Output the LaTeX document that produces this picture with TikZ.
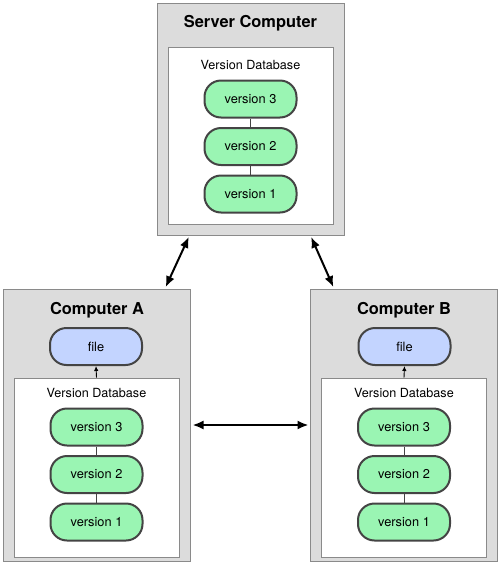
\documentclass[tikz,border=0pt]{standalone}
\usepackage{fontspec}
\setmainfont{TeX Gyre Heros}
\usetikzlibrary{arrows.meta}
\definecolor{boxgray}{HTML}{DCDCDC}
\definecolor{edgegray}{HTML}{8A8A8A}
\definecolor{vergreen}{HTML}{9AF5B3}
\definecolor{fileblue}{HTML}{C3D4FF}
\definecolor{pilledge}{HTML}{444444}
\begin{document}
\begin{tikzpicture}[x=1pt,y=-1pt,
comp/.style={draw=edgegray,fill=boxgray,line width=1pt,minimum width=187pt,minimum height=272pt,inner sep=0pt},
db/.style={draw=edgegray,fill=white,line width=0.8pt,minimum width=165pt,minimum height=179pt,inner sep=0pt},
pill/.style={draw=pilledge,line width=2pt,minimum width=92pt,minimum height=37pt,rounded corners=16.5pt,font=\fontsize{12.8}{14}\selectfont},
ver/.style={pill,fill=vergreen}, fl/.style={pill,fill=fileblue},
ttl/.style={font=\fontsize{16.4}{18}\selectfont\bfseries},
lbl/.style={font=\fontsize{12.6}{14}\selectfont},
twoway/.style={line width=2pt,{Latex[length=11pt,width=9pt]}-{Latex[length=11pt,width=9pt]},shorten >=1.5pt,shorten <=1.5pt},
chk/.style={line width=0.9pt,-{Latex[length=5pt,width=4.5pt]}}]
\useasboundingbox (0,0) rectangle (500,563);
%\draw[help lines,step=50] (0,0) grid (500,563);
\node[comp,minimum height=232pt] (srv) at (250.5,119) {};
\node[comp] (ca) at (97,425) {};
\node[comp] (cb) at (404,425) {};
\node[ttl] (tsrv) at (250.5,23) {Server Computer};
\node[ttl] (ta) at (97,310) {Computer A};
\node[ttl] (tb) at (404,310) {Computer B};
\node[db,minimum height=177pt] (dbs) at (250.5,135.5) {};
\node[db] (dba) at (96.5,467.5) {};
\node[db] (dbb) at (404,467.5) {};
\node[fl] (fa) at (96,346.5) {file};
\node[fl] (fb) at (404.5,346.5) {file};
\draw[chk] (dba.north) -- (fa.south);
\draw[chk] (dbb.north) -- (fb.south);
\foreach \c/\x/\y in {s/250.5/65, a/96.5/393, b/404/393} {
  \node[lbl] (vd\c) at (\x,\y) {Version Database};
  \node[ver] (v3\c) at (\x,\y+34) {version 3};
  \node[ver] (v2\c) at (\x,\y+81.5) {version 2};
  \node[ver] (v1\c) at (\x,\y+129) {version 1};
  \draw[pilledge,line width=0.8pt] (v3\c) -- (v2\c) (v2\c) -- (v1\c);
}
\draw[twoway] ([xshift=33pt]srv.south west) -- ([xshift=-26pt]ca.north east);
\draw[twoway] ([xshift=-34pt]srv.south east) -- ([xshift=24pt]cb.north west);
\draw[twoway] (ca.east) -- (cb.west);
\end{tikzpicture}
\end{document}
